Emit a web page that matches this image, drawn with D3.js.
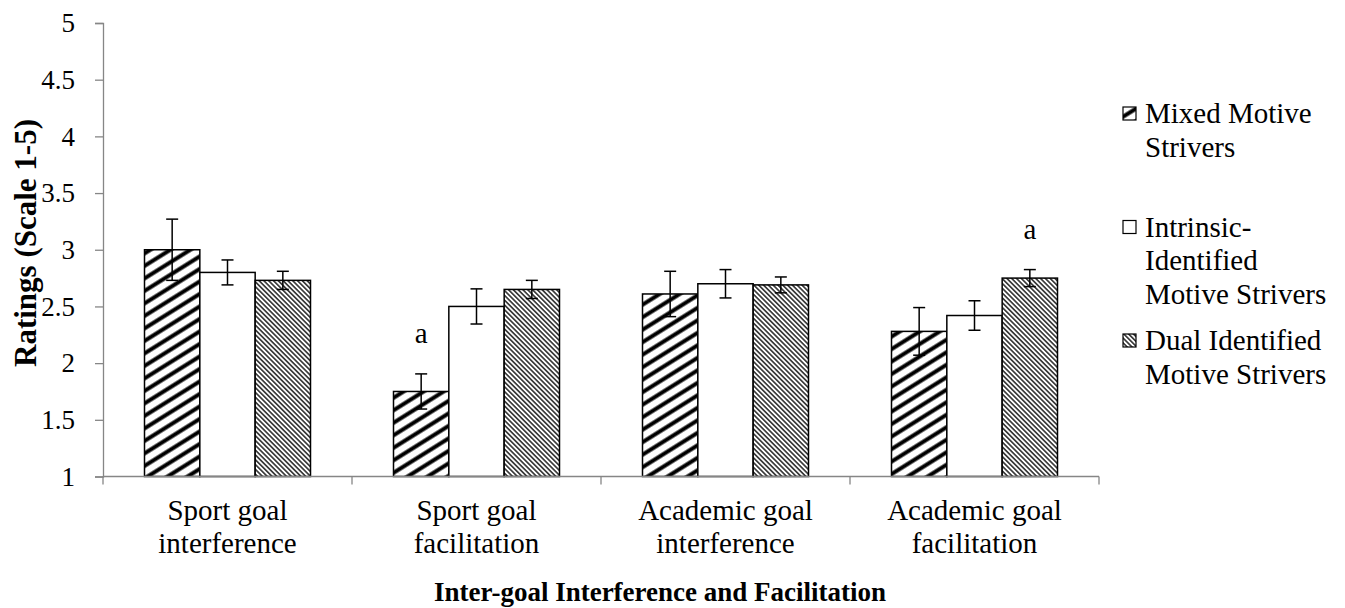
<!DOCTYPE html>
<html>
<head>
<meta charset="utf-8">
<script src="https://cdn.jsdelivr.net/npm/d3@7"></script>
<style>
  body { margin: 0; background: #fff; }
  svg { display: block; }
  svg text { font-family: "Liberation Serif", "Times New Roman", serif; }
</style>
</head>
<body>
<div id="chart"></div>
<script>
// Data
const categories = [
  ["Sport goal", "interference"],
  ["Sport goal", "facilitation"],
  ["Academic goal", "interference"],
  ["Academic goal", "facilitation"]
];
const seriesNames = [
  ["Mixed Motive", "Strivers"],
  ["Intrinsic-", "Identified", "Motive Strivers"],
  ["Dual Identified", "Motive Strivers"]
];
const mixedMeans     = [3.00, 1.75, 2.61, 2.28];
const mixedErr       = [0.27, 0.155, 0.20, 0.21];
const intrinsicMeans = [2.80, 2.50, 2.70, 2.42];
const intrinsicErr   = [0.11, 0.155, 0.125, 0.13];
const dualMeans      = [2.73, 2.65, 2.69, 2.75];
const dualErr        = [0.08, 0.08, 0.07, 0.075];
const yTicks = [1, 1.5, 2, 2.5, 3, 3.5, 4, 4.5, 5];
// significance marks: [category index, series index, label]
const marks = [[1, 0, "a"], [3, 2, "a"]];

const width = 1345, height = 608;
const margin = { top: 23, left: 103, plotRight: 1099, bottom: 476.5 };
const tickFont = 27, labelFont = 29;

const means = [mixedMeans, intrinsicMeans, dualMeans];
const errs  = [mixedErr, intrinsicErr, dualErr];
const fills = ["url(#wideUp)", "#fff", "url(#darkDown)"];

const svg = d3.select("#chart").append("svg")
  .attr("width", width)
  .attr("height", height);

// hatch patterns
const defs = svg.append("defs");
const p1 = defs.append("pattern")
  .attr("id", "wideUp")
  .attr("patternUnits", "userSpaceOnUse")
  .attr("width", 10).attr("height", 10.6)
  .attr("patternTransform", "rotate(-32)");
p1.append("rect").attr("width", 10).attr("height", 10.6).attr("fill", "#fff");
p1.append("line")
  .attr("x1", 0).attr("x2", 10).attr("y1", 5.3).attr("y2", 5.3)
  .attr("stroke", "#000").attr("stroke-width", 4);

const p2 = defs.append("pattern")
  .attr("id", "darkDown")
  .attr("patternUnits", "userSpaceOnUse")
  .attr("width", 4).attr("height", 3.4)
  .attr("patternTransform", "rotate(45)");
p2.append("rect").attr("width", 4).attr("height", 3.4).attr("fill", "#fff");
p2.append("line")
  .attr("x1", 0).attr("x2", 4).attr("y1", 1.7).attr("y2", 1.7)
  .attr("stroke", "#000").attr("stroke-width", 1.3);

// Scales
const x0 = d3.scaleBand()
  .domain(d3.range(categories.length))
  .range([margin.left, margin.plotRight]);
const pad = x0.bandwidth() / 6;
const x1 = d3.scaleBand()
  .domain(d3.range(seriesNames.length))
  .range([pad, x0.bandwidth() - pad]);
const y = d3.scaleLinear().domain([1, 5]).range([margin.bottom, margin.top]);

// Y axis
const yAxis = svg.append("g")
  .attr("transform", `translate(${margin.left},0)`)
  .call(d3.axisLeft(y).tickValues(yTicks).tickSize(8).tickPadding(20)
    .tickFormat(d3.format("")));
yAxis.attr("font-family", null);
yAxis.select(".domain").attr("stroke", "#868686").attr("stroke-width", 1.3);
yAxis.selectAll(".tick line").attr("stroke", "#868686").attr("stroke-width", 1.3);
yAxis.selectAll(".tick text")
  .attr("fill", "#000")
  .style("font-size", tickFont + "px");

// Bars
const bars = [];
categories.forEach((c, ci) => {
  means.forEach((m, si) => {
    bars.push({ ci, si, v: m[ci], e: errs[si][ci] });
  });
});

const g = svg.append("g");
g.selectAll("rect.bar")
  .data(bars)
  .join("rect")
    .attr("class", "bar")
    .attr("x", d => x0(d.ci) + x1(d.si))
    .attr("y", d => y(d.v))
    .attr("width", x1.bandwidth())
    .attr("height", d => y(1) - y(d.v))
    .attr("fill", d => fills[d.si])
    .attr("stroke", "#000")
    .attr("stroke-width", 1.5);

// X axis
const xAxisG = svg.append("g");
xAxisG.append("line")
  .attr("x1", margin.left).attr("x2", margin.plotRight)
  .attr("y1", y(1)).attr("y2", y(1))
  .attr("stroke", "#868686").attr("stroke-width", 1.3);
xAxisG.selectAll("line.xt")
  .data(d3.range(categories.length + 1))
  .join("line")
    .attr("class", "xt")
    .attr("x1", i => margin.left + i * x0.bandwidth())
    .attr("x2", i => margin.left + i * x0.bandwidth())
    .attr("y1", y(1)).attr("y2", y(1) + 8)
    .attr("stroke", "#868686").attr("stroke-width", 1.3);

// Error bars
const cap = 6;
const eb = g.selectAll("g.err")
  .data(bars)
  .join("g")
    .attr("class", "err")
    .attr("transform", d => `translate(${x0(d.ci) + x1(d.si) + x1.bandwidth() / 2},0)`);
eb.append("line")
  .attr("y1", d => y(d.v + d.e)).attr("y2", d => y(d.v - d.e))
  .attr("stroke", "#000").attr("stroke-width", 1.5);
eb.append("line")
  .attr("x1", -cap).attr("x2", cap)
  .attr("y1", d => y(d.v + d.e)).attr("y2", d => y(d.v + d.e))
  .attr("stroke", "#000").attr("stroke-width", 1.5);
eb.append("line")
  .attr("x1", -cap).attr("x2", cap)
  .attr("y1", d => y(d.v - d.e)).attr("y2", d => y(d.v - d.e))
  .attr("stroke", "#000").attr("stroke-width", 1.5);

// Significance marks
svg.selectAll("text.mark")
  .data(marks)
  .join("text")
    .attr("class", "mark")
    .attr("x", d => x0(d[0]) + x1(d[1]) + x1.bandwidth() / 2)
    .attr("y", d => y(means[d[1]][d[0]] + errs[d[1]][d[0]]) - 31)
    .attr("text-anchor", "middle")
    .style("font-size", labelFont + "px")
    .text(d => d[2]);

// Category labels
const catLabels = svg.selectAll("text.cat")
  .data(categories)
  .join("text")
    .attr("class", "cat")
    .attr("text-anchor", "middle")
    .style("font-size", labelFont + "px");
catLabels.selectAll("tspan")
  .data((d, i) => d.map(t => ({ t, i })))
  .join("tspan")
    .attr("x", d => x0(d.i) + x0.bandwidth() / 2)
    .attr("y", (d, j) => 520 + j * 33)
    .text(d => d.t);

// Axis titles
svg.append("text")
  .attr("x", 660).attr("y", 601)
  .attr("text-anchor", "middle")
  .style("font-size", "27px")
  .style("font-weight", "bold")
  .text("Inter-goal Interference and Facilitation");

svg.append("text")
  .attr("transform", "translate(36,243) rotate(-90)")
  .attr("text-anchor", "middle")
  .style("font-size", "31px")
  .style("font-weight", "bold")
  .text("Ratings (Scale 1-5)");

// Legend
const legend = svg.append("g").attr("transform", "translate(1123,0)");
const item = legend.selectAll("g.item")
  .data(seriesNames)
  .join("g")
    .attr("class", "item")
    .attr("transform", (d, i) => `translate(0,${123 + i * 113.5})`);
item.append("rect")
  .attr("x", 0).attr("y", -16)
  .attr("width", 13).attr("height", 13)
  .attr("fill", (d, i) => fills[i])
  .attr("stroke", "#000").attr("stroke-width", 1.2);
item.append("text")
  .style("font-size", labelFont + "px")
  .selectAll("tspan")
  .data(d => d)
  .join("tspan")
    .attr("x", 22)
    .attr("y", (d, j) => j * 33.5)
    .text(d => d);
</script>
</body>
</html>
